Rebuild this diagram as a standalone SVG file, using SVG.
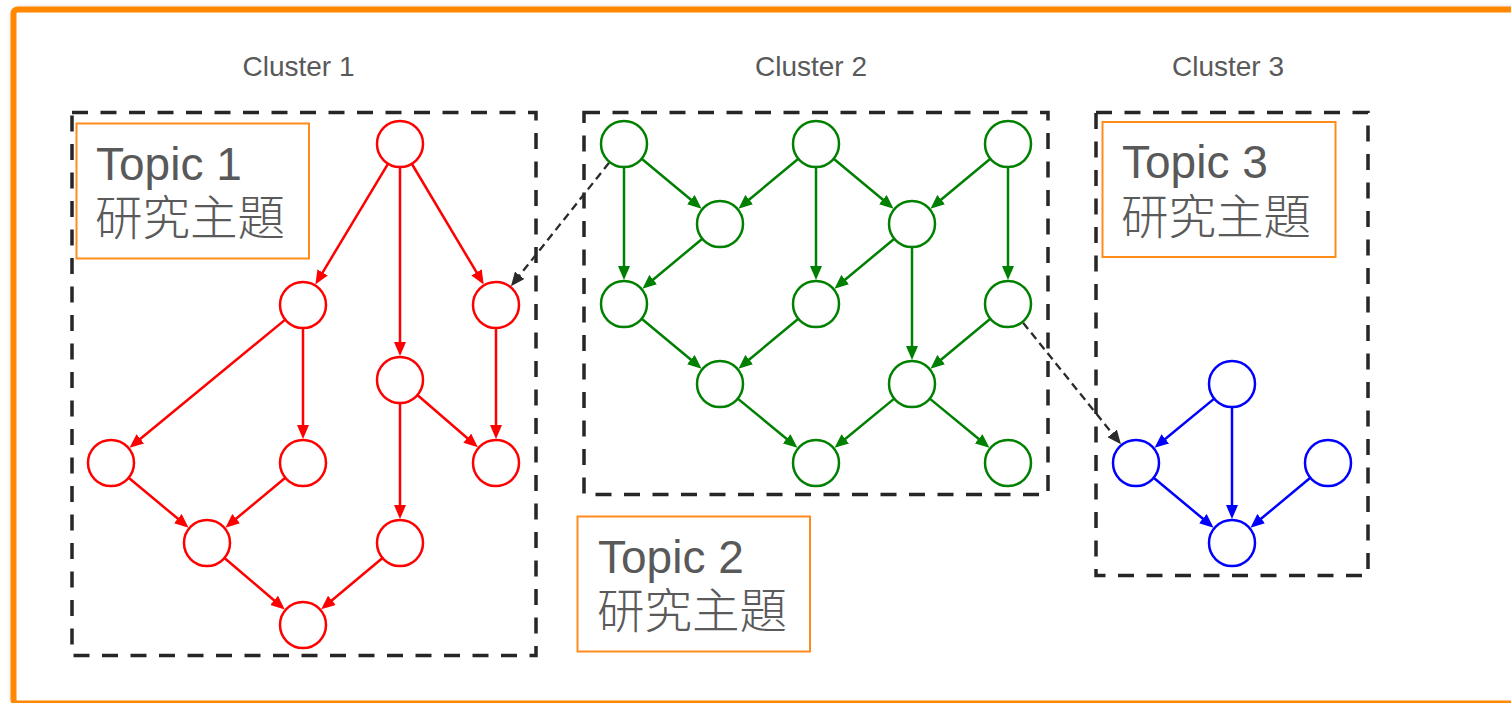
<svg xmlns="http://www.w3.org/2000/svg" width="1511" height="703" viewBox="0 0 1511 703">
  <style>
    .frame { fill: #ffffff; stroke: #ff8800; stroke-width: 6; }
    .cluster { fill: none; stroke: #262626; stroke-width: 3.5; stroke-dasharray: 16 12.5; }
    .topic { fill: #ffffff; stroke: #ff8c1a; stroke-width: 2; }
    .lbl { font-family: "Liberation Sans", Arial, sans-serif; font-size: 28px; fill: #595959; text-anchor: middle; }
    .tl { font-family: "Liberation Sans", Arial, sans-serif; font-size: 46px; fill: #595959; }
    .tc { font-family: "Liberation Sans", "Noto Sans CJK TC", sans-serif; font-size: 47.5px; font-weight: 300; fill: #5a5a5a; }
    .n { fill: #ffffff; stroke-width: 2.5; }
    .red { stroke: #ff0000; }
    .green { stroke: #008000; }
    .blue { stroke: #0000ff; }
    .e { fill: none; stroke-width: 2.5; }
    .er { stroke: #ff0000; marker-end: url(#ar); }
    .eg { stroke: #008000; marker-end: url(#ag); }
    .eb { stroke: #0000ff; marker-end: url(#ab); }
    .ek { fill: none; stroke: #2b2b2b; stroke-width: 2.3; stroke-dasharray: 8 5; marker-end: url(#ak); }
  </style>
  <defs>
    <filter id="sh" x="-5%" y="-5%" width="110%" height="110%">
      <feDropShadow dx="2" dy="2" stdDeviation="2.5" flood-color="#000000" flood-opacity="0.4"/>
    </filter>
    <marker id="ar" markerUnits="userSpaceOnUse" markerWidth="15" markerHeight="12" refX="1" refY="6" orient="auto">
      <path d="M0,0 L14,6 L0,12 z" fill="#ff0000"/>
    </marker>
    <marker id="ag" markerUnits="userSpaceOnUse" markerWidth="15" markerHeight="12" refX="1" refY="6" orient="auto">
      <path d="M0,0 L14,6 L0,12 z" fill="#008000"/>
    </marker>
    <marker id="ab" markerUnits="userSpaceOnUse" markerWidth="15" markerHeight="12" refX="1" refY="6" orient="auto">
      <path d="M0,0 L14,6 L0,12 z" fill="#0000ff"/>
    </marker>
    <marker id="ak" markerUnits="userSpaceOnUse" markerWidth="15" markerHeight="12" refX="1" refY="6" orient="auto">
      <path d="M0,0 L14,6 L0,12 z" fill="#2b2b2b"/>
    </marker>
  </defs>

  <rect width="1511" height="703" fill="#ffffff"/>
  <rect class="frame" x="13.5" y="9.5" width="1506" height="694" rx="4" filter="url(#sh)"/>

  <g id="clusters">
    <rect id="cluster1" class="cluster" x="72" y="112.5" width="464" height="543"/>
    <rect id="cluster2" class="cluster" x="584" y="112.5" width="464" height="382"/>
    <rect id="cluster3" class="cluster" x="1096" y="112.5" width="272" height="463"/>
    <text class="lbl" x="298.5" y="76">Cluster 1</text>
    <text class="lbl" x="811" y="76">Cluster 2</text>
    <text class="lbl" x="1228" y="76">Cluster 3</text>
  </g>

  <g id="topic1">
    <rect class="topic" x="76.5" y="123.5" width="232.5" height="135"/>
    <text class="tl" x="96" y="180">Topic 1</text>
    <text class="tc" x="95" y="235">研究主題</text>
  </g>
  <g id="topic2">
    <rect class="topic" x="577.5" y="516.5" width="232.5" height="135"/>
    <text class="tl" x="598" y="573">Topic 2</text>
    <text class="tc" x="597" y="628">研究主題</text>
  </g>
  <g id="topic3">
    <rect class="topic" x="1102.5" y="122" width="233" height="135"/>
    <text class="tl" x="1122" y="178">Topic 3</text>
    <text class="tc" x="1121" y="234">研究主題</text>
  </g>

  <g id="connectors">
    <!-- red -->
    <path class="e er" d="M388.13,163.70 L322.10,273.31"/>
    <path class="e er" d="M411.78,163.75 L477.05,273.22"/>
    <path class="e er" d="M400,167 L400,343"/>
    <path class="e er" d="M285.24,319.61 L139.57,439.49"/>
    <path class="e er" d="M303,328 L303,426"/>
    <path class="e er" d="M496,328 L496,426"/>
    <path class="e er" d="M417.40,395.04 L468.01,438.80"/>
    <path class="e er" d="M400,403 L400,506"/>
    <path class="e er" d="M128.67,477.72 L178.58,519.31"/>
    <path class="e er" d="M285.33,477.72 L235.42,519.31"/>
    <path class="e er" d="M224.49,557.94 L274.87,600.97"/>
    <path class="e er" d="M382.51,557.94 L331.13,600.97"/>
    <!-- green -->
    <path class="e eg" d="M641.67,158.72 L691.58,200.31"/>
    <path class="e eg" d="M624,167 L624,267"/>
    <path class="e eg" d="M798.33,158.72 L748.42,200.31"/>
    <path class="e eg" d="M833.67,158.72 L883.58,200.31"/>
    <path class="e eg" d="M816,167 L816,267"/>
    <path class="e eg" d="M990.33,158.72 L940.42,200.31"/>
    <path class="e eg" d="M1008,167 L1008,267"/>
    <path class="e eg" d="M702.33,238.72 L652.42,280.31"/>
    <path class="e eg" d="M894.33,238.72 L844.42,280.31"/>
    <path class="e eg" d="M912,247 L912,347"/>
    <path class="e eg" d="M641.67,318.72 L691.58,360.31"/>
    <path class="e eg" d="M798.33,318.72 L748.42,360.31"/>
    <path class="e eg" d="M990.33,318.72 L940.42,360.31"/>
    <path class="e eg" d="M737.76,398.61 L787.43,439.49"/>
    <path class="e eg" d="M894.24,398.61 L844.57,439.49"/>
    <path class="e eg" d="M929.76,398.61 L979.43,439.49"/>
    <!-- blue -->
    <path class="e eb" d="M1214.24,398.61 L1164.57,439.49"/>
    <path class="e eb" d="M1232,407 L1232,506"/>
    <path class="e eb" d="M1153.67,477.72 L1203.58,519.31"/>
    <path class="e eb" d="M1310.33,477.72 L1260.42,519.31"/>
    <!-- dashed cross-cluster -->
    <path class="ek" d="M609.07,162.78 L519.03,276.04"/>
    <path class="ek" d="M1023.05,322.70 L1112.80,434.18"/>
  </g>

  <g id="nodes">
    <circle id="r1" class="n red" cx="400" cy="144" r="23"/>
    <circle id="r2" class="n red" cx="303" cy="305" r="23"/>
    <circle id="r3" class="n red" cx="496" cy="305" r="23"/>
    <circle id="r4" class="n red" cx="400" cy="380" r="23"/>
    <circle id="r5" class="n red" cx="111" cy="463" r="23"/>
    <circle id="r6" class="n red" cx="303" cy="463" r="23"/>
    <circle id="r7" class="n red" cx="496" cy="463" r="23"/>
    <circle id="r8" class="n red" cx="207" cy="543" r="23"/>
    <circle id="r9" class="n red" cx="400" cy="543" r="23"/>
    <circle id="r10" class="n red" cx="303" cy="625" r="23"/>

    <circle id="g1" class="n green" cx="624" cy="144" r="23"/>
    <circle id="g2" class="n green" cx="816" cy="144" r="23"/>
    <circle id="g3" class="n green" cx="1008" cy="144" r="23"/>
    <circle id="g4" class="n green" cx="720" cy="224" r="23"/>
    <circle id="g5" class="n green" cx="912" cy="224" r="23"/>
    <circle id="g6" class="n green" cx="624" cy="304" r="23"/>
    <circle id="g7" class="n green" cx="816" cy="304" r="23"/>
    <circle id="g8" class="n green" cx="1008" cy="304" r="23"/>
    <circle id="g9" class="n green" cx="720" cy="384" r="23"/>
    <circle id="g10" class="n green" cx="912" cy="384" r="23"/>
    <circle id="g11" class="n green" cx="816" cy="463" r="23"/>
    <circle id="g12" class="n green" cx="1008" cy="463" r="23"/>

    <circle id="b1" class="n blue" cx="1232" cy="384" r="23"/>
    <circle id="b2" class="n blue" cx="1136" cy="463" r="23"/>
    <circle id="b3" class="n blue" cx="1328" cy="463" r="23"/>
    <circle id="b4" class="n blue" cx="1232" cy="543" r="23"/>
  </g>
</svg>
